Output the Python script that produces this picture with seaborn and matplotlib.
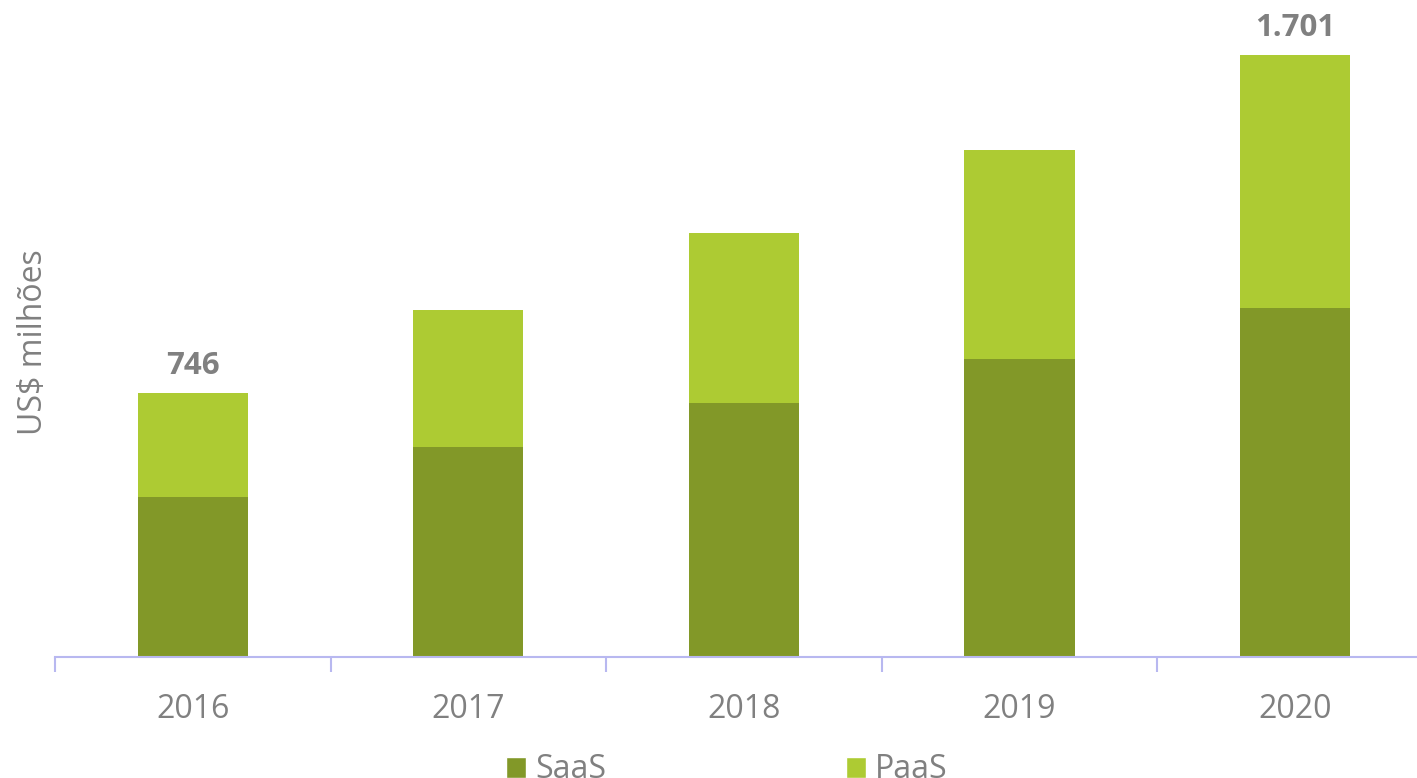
import pandas as pd
import matplotlib.pyplot as plt
import seaborn as sns
from matplotlib.patches import Patch

# valores (US$ milhões)
anos = ['2016', '2017', '2018', '2019', '2020']
saas = [452, 593, 718, 842, 986]
paas = [294, 388, 480, 591, 715]

cor_saas = '#829828'
cor_paas = '#adcb33'
cinza = '#808080'

df = pd.DataFrame({'ano': anos, 'SaaS': saas, 'PaaS': paas})
df['total'] = df['SaaS'] + df['PaaS']

sns.set_theme(style='white')
plt.rcParams['font.family'] = ['Open Sans', 'DejaVu Sans']

fig = plt.figure(figsize=(14.17, 7.78), dpi=100)
ax = fig.add_axes([55 / 1417, 1 - 657 / 778, 1 - 55 / 1417, 657 / 778])

# barras empilhadas: total (PaaS) por baixo, SaaS por cima
sns.barplot(data=df, x='ano', y='total', color=cor_paas, width=0.4,
            saturation=1, edgecolor='none', ax=ax)
sns.barplot(data=df, x='ano', y='SaaS', color=cor_saas, width=0.4,
            saturation=1, edgecolor='none', ax=ax)

ax.set_xlim(-0.5, 4.443)
ax.set_ylim(0, 1857)

# rótulos só no primeiro e no último ano
for i in [0, len(anos) - 1]:
    tot = df['total'].iloc[i]
    txt = f'{tot:,}'.replace(',', '.')
    ax.annotate(txt, (i, tot), xytext=(0, 14), textcoords='offset points',
                ha='center', va='baseline', fontsize=22.5, fontweight='bold',
                color=cinza)

for s in ['top', 'right', 'left']:
    ax.spines[s].set_visible(False)
ax.spines['bottom'].set_color('#b8b8f0')
ax.spines['bottom'].set_linewidth(1.5)

ax.set_yticks([])
ax.set_xticks(range(len(anos)))
ax.set_xticklabels(anos)
ax.set_xticks([-0.5, 0.5, 1.5, 2.5, 3.5], minor=True)
ax.tick_params(axis='x', which='major', length=0, pad=26, labelsize=23,
               labelcolor=cinza)
ax.tick_params(axis='x', which='minor', bottom=True, length=11, width=1.5,
               color='#b8b8f0')
ax.set_xlabel('')
ax.set_ylabel('US$ milhões', fontsize=23, color=cinza)
ax.yaxis.set_label_coords(-0.004, 0.48)

handles = [Patch(facecolor=cor_saas, label='SaaS'),
           Patch(facecolor=cor_paas, label='PaaS')]
fig.legend(handles=handles, loc='center', bbox_to_anchor=(727 / 1417, 1 - 770 / 778),
           ncol=2, frameon=False, fontsize=23, labelcolor=cinza,
           handlelength=0.62, handleheight=0.62, handletextpad=0.3,
           columnspacing=7.5, borderpad=0)

plt.savefig('out.png', dpi=100)
